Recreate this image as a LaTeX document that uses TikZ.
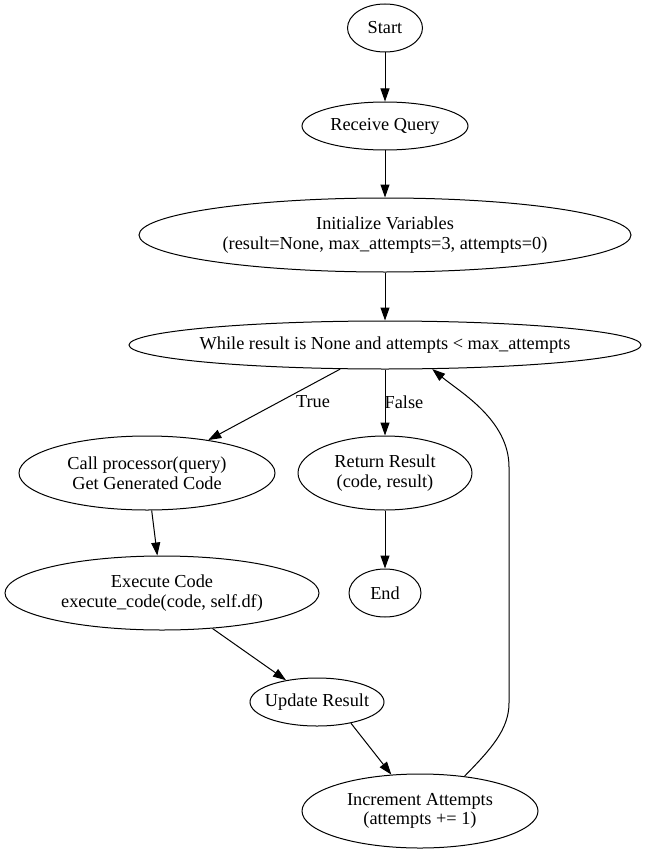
\documentclass[tikz,border=0pt]{standalone}
\usepackage{fontspec}
\setmainfont{Liberation Serif}
\usetikzlibrary{shapes.geometric,arrows.meta}
\tikzset{
  nd/.style={ellipse,draw,line width=1pt,inner sep=0pt},
  one/.style={nd,minimum height=48pt},
  two/.style={nd,minimum height=74pt},
  txt/.style={label={[align=center,inner sep=0pt,font=\fontsize{18.3}{19.5}\selectfont]center:#1}},
  edge/.style={line width=1pt,-{Triangle[length=13pt,width=9pt]}},
  lbl/.style={inner sep=0pt,font=\fontsize{18.3}{19.5}\selectfont}
}
\begin{document}
\begin{tikzpicture}[x=1pt,y=-1pt]
\useasboundingbox (0,0) rectangle (647,853);
\node[one,minimum width=75pt,txt={Start}] (start) at (385,28) {};
\node[one,minimum width=166pt,txt={Receive Query}] (recv) at (385,126) {};
\node[two,minimum width=492pt,txt={Initialize Variables\\(result=None, max\_attempts=3, attempts=0)}] (init) at (385,235) {};
\node[one,minimum width=512pt,txt={While result is None and attempts < max\_attempts}] (while) at (385,345) {};
\node[two,minimum width=256pt,txt={Call processor(query)\\Get Generated Code}] (call) at (147,473) {};
\node[two,minimum width=174pt,txt={Return Result\\(code, result)}] (ret) at (385,473) {};
\node[one,minimum width=72pt,txt={End}] (end) at (385,593) {};
\node[two,minimum width=314pt,txt={Execute Code\\execute\_code(code, self.df)}] (exec) at (162,593) {};
\node[one,minimum width=134pt,txt={Update Result}] (upd) at (317,702) {};
\node[two,minimum width=236pt,txt={Increment Attempts\\(attempts += 1)}] (inc) at (420,811) {};
\node[lbl] (tl) at (313,402) {True};
\node[lbl] (fl) at (404,402) {False};
\draw[edge] (start) -- (recv);
\draw[edge] (recv) -- (init);
\draw[edge] (init) -- (while);
\draw[edge] (while) -- (call);
\draw[edge] (while) -- (ret);
\draw[edge] (ret) -- (end);
\draw[edge] (call) -- (exec);
\draw[edge] (exec) -- (upd);
\draw[edge] (upd.-32) -- (inc);
\draw[edge] (inc.38) .. controls (490,750) and (509,730) .. (509,703) -- (509,467) .. controls (509,420) and (460,392) .. (while.-27);
\end{tikzpicture}
\end{document}
